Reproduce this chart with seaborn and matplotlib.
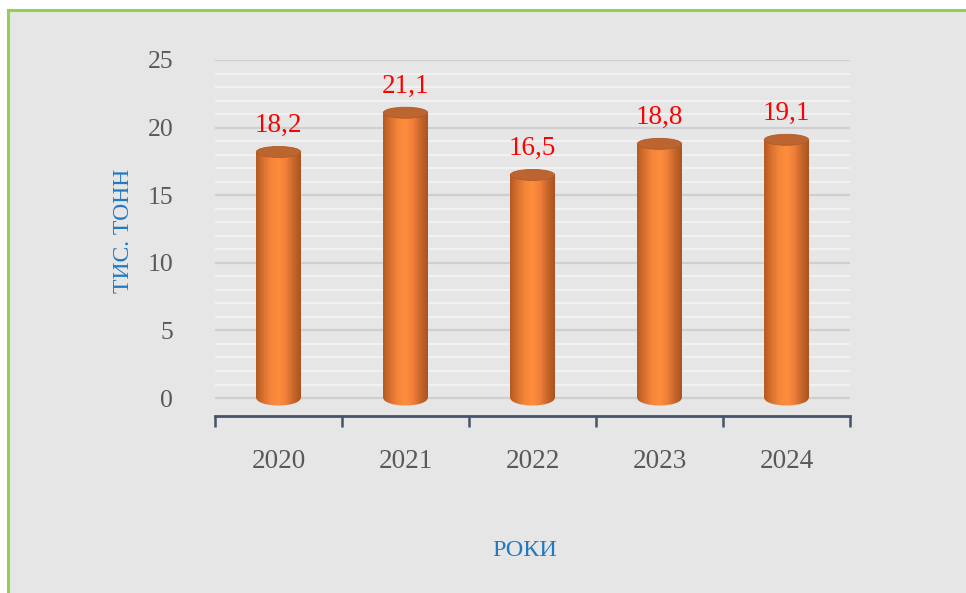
import numpy as np
import pandas as pd
import matplotlib
matplotlib.use("Agg")
import matplotlib.pyplot as plt
from matplotlib.patches import Rectangle, Ellipse
from matplotlib.colors import LinearSegmentedColormap
from matplotlib.ticker import FixedLocator
import seaborn as sns

# --- data -------------------------------------------------------------
years = ["2020", "2021", "2022", "2023", "2024"]
volumes = [18.2, 21.1, 16.5, 18.8, 19.1]
y_ticks = [0, 5, 10, 15, 20, 25]
y_title = "ТИС. ТОНН"
x_title = "РОКИ"

# --- style ------------------------------------------------------------
sns.set_style("white")
plt.rcParams["font.family"] = ["Liberation Serif", "DejaVu Serif"]

W, H = 966, 593
fig = plt.figure(figsize=(W / 100, H / 100), dpi=100, facecolor="white")

# chart area panel with green frame (left/top edges visible)
fig.patches.append(Rectangle((8 / W, -0.05), 1.1, (H - 10) / H + 0.05,
                             transform=fig.transFigure, facecolor="#e6e6e6",
                             edgecolor="#92d050", linewidth=2.2, zorder=-10))

ax = fig.add_axes([215 / W, (H - 415.6) / H, (850 - 215) / W, (415.6 - 60) / H])
ax.set_facecolor("none")

df = pd.DataFrame({"year": years, "volume": volumes})
bar_w = 0.35
sns.barplot(data=df, x="year", y="volume", ax=ax, width=bar_w,
            color="#f0823a", saturation=1, errorbar=None, zorder=3)

ax.set_ylim(-1.3, 25)
ax.set_xlim(-0.5, len(years) - 0.5)

# gridlines: major every 5, light minor every 1
ax.yaxis.set_major_locator(FixedLocator(y_ticks))
ax.yaxis.set_minor_locator(FixedLocator(np.arange(0, 26, 1)))
ax.grid(axis="y", which="major", color="#cfcfcf", linewidth=1.6, zorder=0)
ax.grid(axis="y", which="minor", color="#f3f3f3", linewidth=1.3, zorder=0)
ax.grid(axis="x", visible=False)
ax.set_axisbelow(True)

for s in ("left", "top", "right"):
    ax.spines[s].set_visible(False)
ax.spines["bottom"].set_color("#44546a")
ax.spines["bottom"].set_linewidth(2)

# cylinder shading for each bar
cyl = LinearSegmentedColormap.from_list(
    "cyl", ["#b35a24", "#d9712e", "#f4853a", "#fe8d3c", "#f0803a", "#c8662c", "#a9541f"])
grad = np.linspace(0, 1, 256).reshape(1, -1)
px_per_unit = (415.6 - 60) / (25 + 1.3)
cap_h = 11 / px_per_unit
base_h = 15 / px_per_unit

for bar in ax.patches:
    x0, w, h = bar.get_x(), bar.get_width(), bar.get_height()
    bar.set_edgecolor("none")
    # lower rim of the cylinder
    base = Ellipse((x0 + w / 2, 0), w, base_h, transform=ax.transData,
                   facecolor="none", edgecolor="none")
    ax.add_patch(base)
    im = ax.imshow(grad, cmap=cyl, aspect="auto", extent=(x0, x0 + w, -base_h, h),
                   zorder=4, interpolation="bilinear")
    im.set_clip_path(bar)
    im2 = ax.imshow(grad, cmap=cyl, aspect="auto", extent=(x0, x0 + w, -base_h, h),
                    zorder=4, interpolation="bilinear")
    im2.set_clip_path(base)
    # top face
    ax.add_patch(Ellipse((x0 + w / 2, h), w, cap_h, facecolor="#bd6530",
                         edgecolor="#b05a28", linewidth=0.6, zorder=5))

ax.set_xlim(-0.5, len(years) - 0.5)
ax.set_ylim(-1.3, 25)

# value labels
labels = [f"{v:.1f}".replace(".", ",") for v in volumes]
ax.bar_label(ax.containers[0], labels=labels, padding=10, color="#ff0000",
             fontsize=19.5, zorder=6)

# ticks
ax.tick_params(axis="y", which="both", length=0, pad=30, labelsize=18.5,
               labelcolor="#595959")
ax.tick_params(axis="x", which="major", length=0, pad=24, labelsize=19.5,
               labelcolor="#595959")
ax.set_xticks(np.arange(-0.5, len(years), 1), minor=True)
ax.tick_params(axis="x", which="minor", bottom=True, length=8, width=1.8,
               color="#44546a", direction="out")

ax.set_ylabel(y_title, color="#1f7ac4", fontsize=17)
ax.yaxis.set_label_coords(-0.128, 0.52)
ax.set_xlabel(x_title, color="#1f7ac4", fontsize=17.5)
ax.xaxis.set_label_coords(0.488, -0.35)

fig.savefig("out.png", dpi=100, facecolor="white")
